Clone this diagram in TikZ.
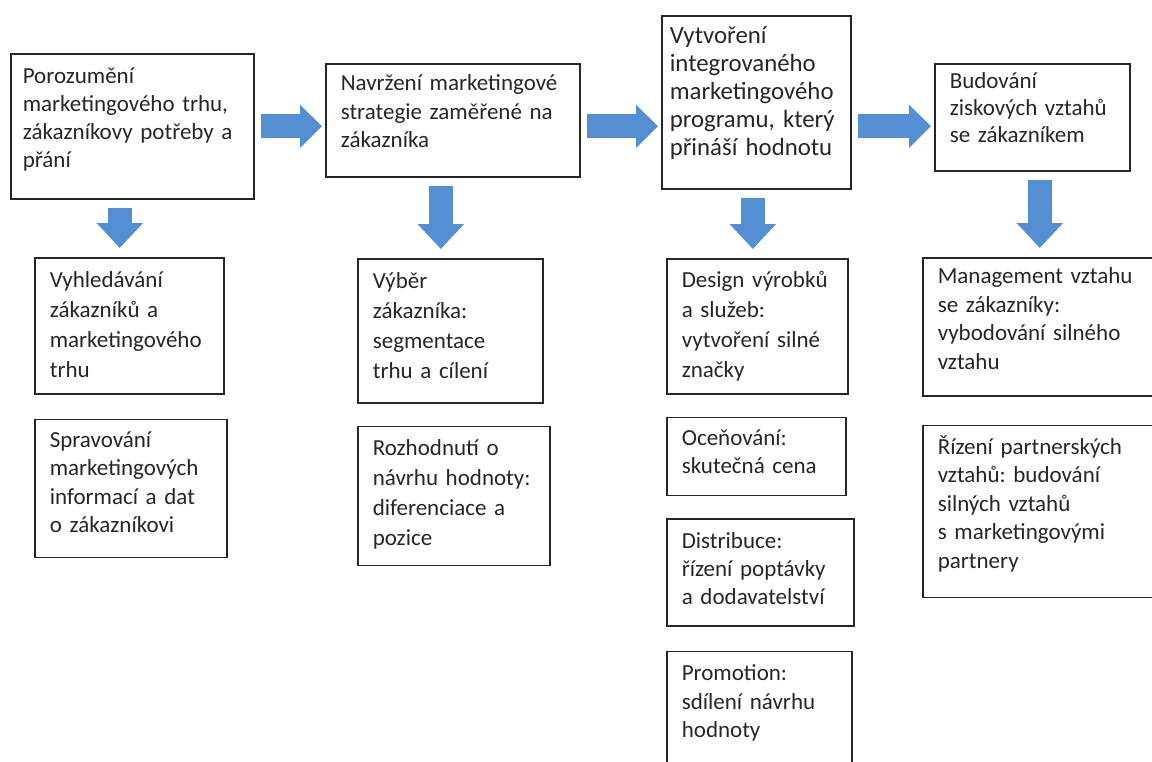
\documentclass[tikz,border=0pt]{standalone}
\usepackage{fontspec}
\setmainfont{Carlito}
\usetikzlibrary{positioning, arrows.meta}
\hyphenpenalty=10000
\frenchspacing
\newcommand\boxfont{\fontsize{11.5}{14.2}\selectfont}
\newcommand\loosefont{\fontsize{11.5}{15}\selectfont}
\definecolor{arrowblue}{RGB}{84,143,212}

\begin{document}
\begin{tikzpicture}[x=0.5pt, y=-0.5pt,
    box/.style = {draw=black!85, line width=0.8pt, anchor=north west, align=left, font=\boxfont, text=black!85, inner xsep=7.5pt, inner ysep=0pt, text height=14.5pt},
    flowright/.style = {line width=12pt, draw=arrowblue, -{Triangle[width=21pt, length=11pt]}, shorten <=3pt, shorten >=1.5pt},
    flowdown/.style = {line width=12pt, draw=arrowblue, -{Triangle[width=22.5pt, length=12.5pt]}, shorten <=4pt, shorten >=4.5pt}]
  \clip (0,0) rectangle (1152,761);
  \node[box, inner xsep=6pt, text width=109.5pt, text height=15pt, text depth=57.5pt, font={\fontsize{11.5}{13.9}\selectfont}] (1) at (10,53) {Porozumění\\marketingového trhu,\\zákazníkovy potřeby a\\přání};
  \node[box, text width=112pt, text height=13.5pt, text depth=43pt] (2) at (325,63) {Navržení marketingové\\strategie zaměřené na\\zákazníka};
  \node[box, inner xsep=4pt, text width=86.5pt, text height=14pt, text depth=72.5pt, font={\fontsize{12.4}{14}\selectfont}] (3) at (661,15) {Vytvoření\\integrovaného\\marketingového\\programu, který\\přináší hodnotu};
  \node[box, text width=82.5pt, text height=12.5pt, text depth=41pt, font={\fontsize{11.5}{13.5}\selectfont}] (4) at (934,63) {Budování\\ziskových vztahů\\se zákazníkem};
  \draw[flowright] (1.east) -- (1.east -| 2.west);
  \draw[flowright] (2.east |- 1.east) -- (1.east -| 3.west);
  \draw[flowright] (3.east |- 1.east) -- (1.east -| 4.west);

  \node[box, text width=79.5pt, text height=15pt, text depth=53pt, font=\loosefont] (11) at (34,257) {Vyhledávání\\zákazníků a\\marketingového\\trhu};
  \node[box, below=12pt of 11.south west, anchor=north west, text width=81pt, text height=14pt, text depth=55pt] (12) {Spravování\\marketingových\\informací a dat\\o zákazníkovi};
  \draw[flowdown] ([xshift=-6.25pt]1.south) -- ([xshift=-6.25pt]1.south |- 11.north);

  \node[box, text width=77.5pt, text height=15pt, text depth=57pt, font=\loosefont] (21) at (357,258) {Výběr\\zákazníka:\\segmentace\\trhu a cílení};
  \node[box, below=11pt of 21.south west, anchor=north west, text width=81pt, text depth=55pt, font=\loosefont] (22) {Rozhodnutí o\\návrhu hodnoty:\\diferenciace a\\pozice};
  \draw[flowdown] ([xshift=-6pt]2.south) -- ([xshift=-6pt]2.south |- 21.north);

  \node[box, text width=75.5pt, text depth=53pt, font=\loosefont] (31) at (666,258) {Design výrobků\\a služeb:\\vytvoření silné\\značky};
  \node[box, below=11pt of 31.south west, anchor=north west, text width=74.5pt, text height=14pt, text depth=25pt] (32) {Oceňování:\\skutečná cena};
  \node[box, below=11pt of 32.south west, anchor=north west, text width=78.5pt, text depth=39pt] (33) {Distribuce:\\řízení poptávky\\a dodavatelství};
  \node[box, below=12pt of 33.south west, anchor=north west, text width=77.5pt, text depth=45.5pt] (34) {Promotion:\\sdílení návrhu\\hodnoty};
  \draw[flowdown] ([xshift=-1.75pt]3.south) -- ([xshift=-1.75pt]3.south |- 31.north);

  \node[box, text width=104pt, text height=13pt, text depth=56pt] (41) at (922,257) {Management vztahu\\se zákazníky:\\vybodování silného\\vztahu};
  \node[box, below=14pt of 41.south west, anchor=north west, text width=104pt, text depth=71.5pt] (42) {Řízení partnerských\\vztahů: budování\\silných vztahů\\s marketingovými\\partnery};
  \draw[flowdown] ([xshift=3.75pt]4.south) -- ([xshift=3.75pt]4.south |- 41.north);
\end{tikzpicture}
\end{document}
